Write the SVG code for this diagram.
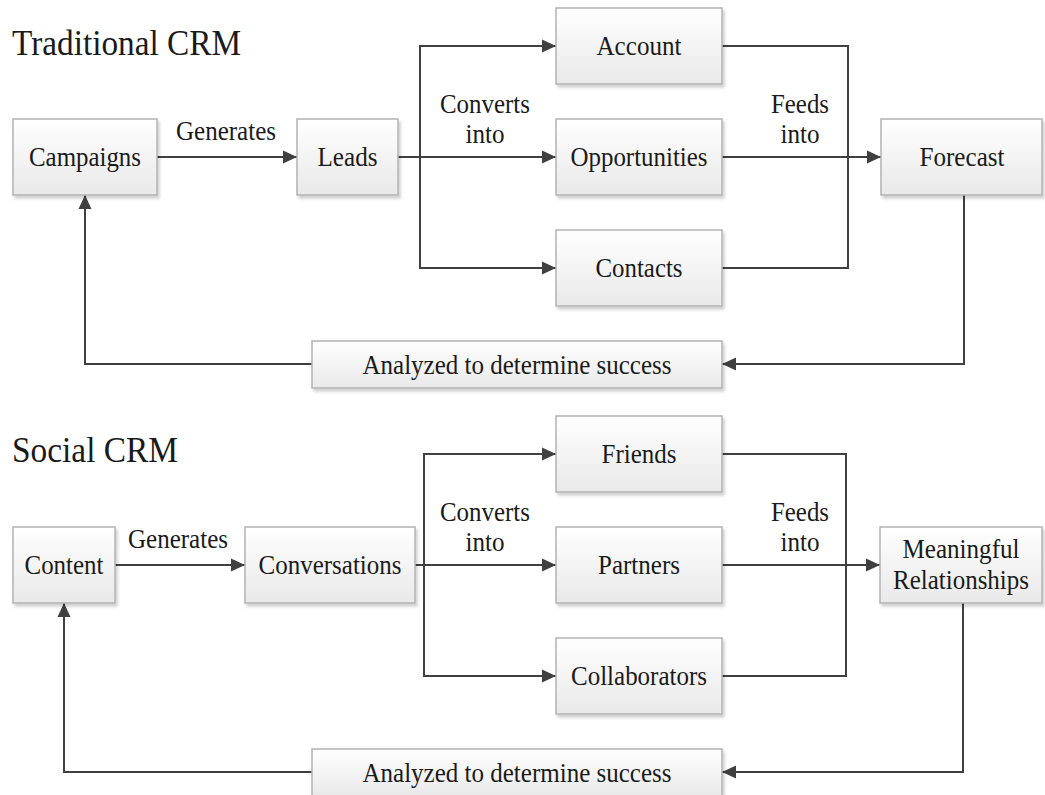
<svg xmlns="http://www.w3.org/2000/svg" width="1045" height="795" viewBox="0 0 1045 795">
<defs>
<linearGradient id="g" x1="0" y1="0" x2="0" y2="1">
<stop offset="0" stop-color="#ffffff"/>
<stop offset="1" stop-color="#e9e9e9"/>
</linearGradient>
<filter id="sh" x="-10%" y="-10%" width="130%" height="140%">
<feDropShadow dx="2" dy="3" stdDeviation="1.5" flood-color="#000" flood-opacity="0.18"/>
</filter>
<marker id="ah" markerUnits="userSpaceOnUse" markerWidth="15" markerHeight="14" refX="14" refY="7" orient="auto">
<path d="M0,0.5 L14,7 L0,13.5 z" fill="#404040"/>
</marker>
</defs>
<style>
.box{fill:url(#g);stroke:#b3b3b3;stroke-width:1.5;filter:url(#sh)}
.t{font-family:'Liberation Serif',serif;font-size:28px;fill:#1a1a1a;text-anchor:middle}
.h{font-family:'Liberation Serif',serif;font-size:35px;fill:#1a1a1a}
.c{fill:none;stroke:#404040;stroke-width:2}
.a{marker-end:url(#ah)}
</style>
<rect width="1045" height="795" fill="#ffffff"/>

<text class="h" x="12" y="55" textLength="229" lengthAdjust="spacingAndGlyphs">Traditional CRM</text>
<text class="h" x="12" y="462" textLength="166" lengthAdjust="spacingAndGlyphs">Social CRM</text>

<g id="connectors">
<path class="c a" d="M157,157 H297"/>
<path class="c a" d="M398,157 H556"/>
<path class="c a" d="M420,157 V46 H556"/>
<path class="c a" d="M420,157 V268 H556"/>
<path class="c" d="M722,46 H848 V268 H722"/>
<path class="c a" d="M722,157 H881"/>
<path class="c a" d="M964,195 V364 H722"/>
<path class="c a" d="M312,364 H85 V195"/>

<path class="c a" d="M115,565 H245"/>
<path class="c a" d="M415,565 H556"/>
<path class="c a" d="M424,565 V454 H556"/>
<path class="c a" d="M424,565 V676 H556"/>
<path class="c" d="M722,454 H846 V676 H722"/>
<path class="c a" d="M722,565 H880"/>
<path class="c a" d="M963,603 V772 H722"/>
<path class="c a" d="M312,772 H64 V603"/>
</g>

<g id="labels">
<text class="t" x="226" y="140" textLength="100" lengthAdjust="spacingAndGlyphs">Generates</text>
<text class="t" x="485" y="113" textLength="90" lengthAdjust="spacingAndGlyphs">Converts</text>
<text class="t" x="485" y="143" textLength="39" lengthAdjust="spacingAndGlyphs">into</text>
<text class="t" x="800" y="113" textLength="58" lengthAdjust="spacingAndGlyphs">Feeds</text>
<text class="t" x="800" y="143" textLength="39" lengthAdjust="spacingAndGlyphs">into</text>
<text class="t" x="178" y="548" textLength="100" lengthAdjust="spacingAndGlyphs">Generates</text>
<text class="t" x="485" y="521" textLength="90" lengthAdjust="spacingAndGlyphs">Converts</text>
<text class="t" x="485" y="551" textLength="39" lengthAdjust="spacingAndGlyphs">into</text>
<text class="t" x="800" y="521" textLength="58" lengthAdjust="spacingAndGlyphs">Feeds</text>
<text class="t" x="800" y="551" textLength="39" lengthAdjust="spacingAndGlyphs">into</text>
</g>

<g id="nodes">
<g id="campaigns"><rect class="box" x="13" y="119" width="144" height="76"/><text class="t" x="85" y="166" textLength="112" lengthAdjust="spacingAndGlyphs">Campaigns</text></g>
<g id="leads"><rect class="box" x="297" y="119" width="101" height="76"/><text class="t" x="347.5" y="166" textLength="60" lengthAdjust="spacingAndGlyphs">Leads</text></g>
<g id="account"><rect class="box" x="556" y="8" width="166" height="76"/><text class="t" x="639" y="55" textLength="85" lengthAdjust="spacingAndGlyphs">Account</text></g>
<g id="opportunities"><rect class="box" x="556" y="119" width="166" height="76"/><text class="t" x="639" y="166" textLength="137" lengthAdjust="spacingAndGlyphs">Opportunities</text></g>
<g id="contacts"><rect class="box" x="556" y="230" width="166" height="76"/><text class="t" x="639" y="277" textLength="87" lengthAdjust="spacingAndGlyphs">Contacts</text></g>
<g id="forecast"><rect class="box" x="881" y="119" width="161" height="76"/><text class="t" x="962" y="166" textLength="85" lengthAdjust="spacingAndGlyphs">Forecast</text></g>
<g id="analyzed1"><rect class="box" x="312" y="341" width="410" height="47"/><text class="t" x="517" y="374" textLength="309" lengthAdjust="spacingAndGlyphs">Analyzed to determine success</text></g>

<g id="content"><rect class="box" x="13" y="527" width="102" height="76"/><text class="t" x="64" y="574" textLength="79" lengthAdjust="spacingAndGlyphs">Content</text></g>
<g id="conversations"><rect class="box" x="245" y="527" width="170" height="76"/><text class="t" x="330" y="574" textLength="143" lengthAdjust="spacingAndGlyphs">Conversations</text></g>
<g id="friends"><rect class="box" x="556" y="416" width="166" height="76"/><text class="t" x="639" y="463" textLength="75" lengthAdjust="spacingAndGlyphs">Friends</text></g>
<g id="partners"><rect class="box" x="556" y="527" width="166" height="76"/><text class="t" x="639" y="574" textLength="82" lengthAdjust="spacingAndGlyphs">Partners</text></g>
<g id="collaborators"><rect class="box" x="556" y="638" width="166" height="76"/><text class="t" x="639" y="685" textLength="136" lengthAdjust="spacingAndGlyphs">Collaborators</text></g>
<g id="meaningful"><rect class="box" x="880" y="527" width="162" height="76"/><text class="t" x="961" y="558" textLength="117" lengthAdjust="spacingAndGlyphs">Meaningful</text><text class="t" x="961" y="589" textLength="136" lengthAdjust="spacingAndGlyphs">Relationships</text></g>
<g id="analyzed2"><rect class="box" x="312" y="749" width="410" height="47"/><text class="t" x="517" y="782" textLength="309" lengthAdjust="spacingAndGlyphs">Analyzed to determine success</text></g>
</g>
</svg>
